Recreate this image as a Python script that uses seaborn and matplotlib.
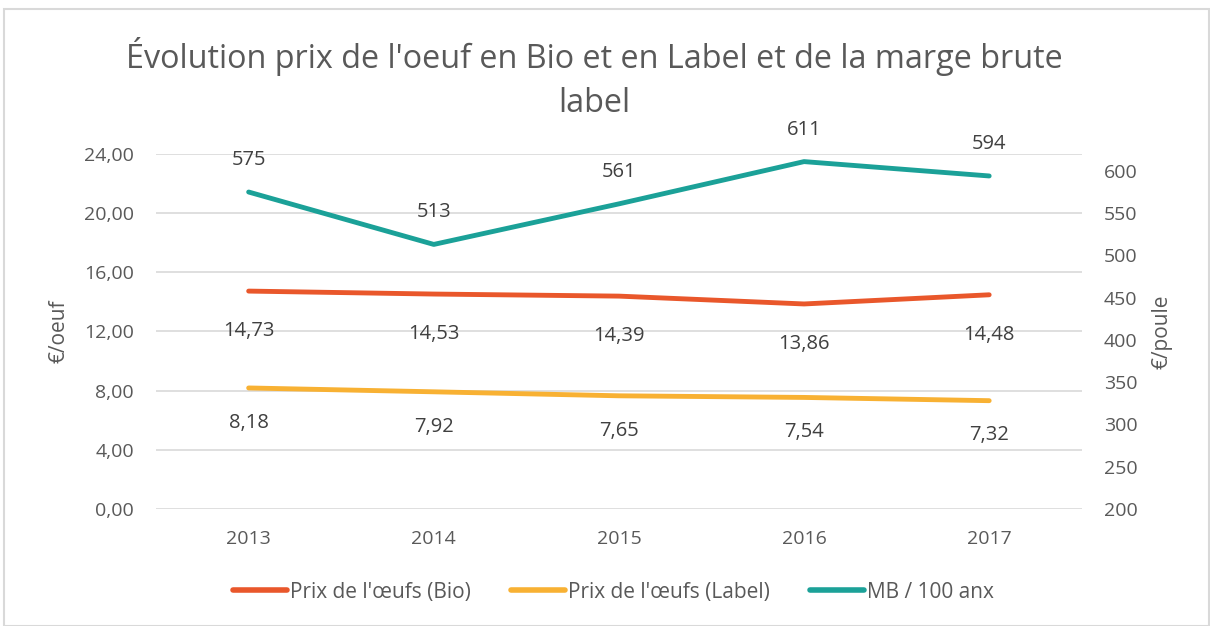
import matplotlib
matplotlib.use("Agg")
import matplotlib.pyplot as plt
import seaborn as sns
import pandas as pd
from matplotlib.patches import Rectangle

# données
annees = ["2013", "2014", "2015", "2016", "2017"]
prix_bio = [14.73, 14.53, 14.39, 13.86, 14.48]
prix_label = [8.18, 7.92, 7.65, 7.54, 7.32]
marge_brute = [575, 513, 561, 611, 594]

couleur_bio = "#E9572B"
couleur_label = "#F8B133"
couleur_mb = "#1BA198"
gris_texte = "#595959"

sns.set_theme(style="white")
plt.rcParams["font.family"] = ["Open Sans", "DejaVu Sans"]

df = pd.DataFrame({
    "annee": annees * 2,
    "prix": prix_bio + prix_label,
    "serie": ["Prix de l'œufs (Bio)"] * 5 + ["Prix de l'œufs (Label)"] * 5,
})
df_mb = pd.DataFrame({"annee": annees, "mb": marge_brute})

fig = plt.figure(figsize=(12.1, 6.26), dpi=100)
fig.patches.append(Rectangle((0.003, 0.0), 0.996, 0.985, transform=fig.transFigure,
                             fill=False, edgecolor="#D9D9D9", linewidth=1.5))
ax = fig.add_axes([0.129, 0.187, 0.765, 0.567])
ax2 = ax.twinx()

sns.lineplot(data=df, x="annee", y="prix", hue="serie", ax=ax, sort=False,
             palette=[couleur_bio, couleur_label], linewidth=3.5, legend=False)
sns.lineplot(data=df_mb, x="annee", y="mb", ax=ax2, sort=False,
             color=couleur_mb, linewidth=3.5)

ax.set_ylim(0, 24)
ax.set_yticks(range(0, 25, 4))
ax.set_yticklabels([f"{v:.2f}".replace(".", ",") for v in range(0, 25, 4)])
ax.set_xlim(-0.5, 4.5)
ax2.set_ylim(200, 620)
ax2.set_yticks(range(200, 601, 50))

ax.grid(axis="y", color="#D9D9D9", linewidth=1.2)
for a in (ax, ax2):
    for s in a.spines.values():
        s.set_visible(False)
    a.tick_params(length=0, labelsize=14, colors=gris_texte)
ax.tick_params(axis="y", pad=16)
ax.tick_params(axis="x", pad=15)
ax2.tick_params(axis="y", pad=16)

ax.set_xlabel("")
ax.set_ylabel("€/oeuf", fontsize=15, color=gris_texte, labelpad=10)
ax2.set_ylabel("€/poule", fontsize=15, color=gris_texte, labelpad=10)

# étiquettes de données
for i, v in enumerate(prix_bio):
    ax.annotate(f"{v:.2f}".replace(".", ","), (i, v), xytext=(0, -29), textcoords="offset points",
                ha="center", va="center", fontsize=14.5, color="#404040")
for i, v in enumerate(prix_label):
    ax.annotate(f"{v:.2f}".replace(".", ","), (i, v), xytext=(0, -25), textcoords="offset points",
                ha="center", va="center", fontsize=14.5, color="#404040")
for i, v in enumerate(marge_brute):
    ax2.annotate(str(v), (i, v), xytext=(0, 23), textcoords="offset points",
                 ha="center", va="center", fontsize=14.5, color="#404040")

fig.text(0.491, 0.875, "Évolution prix de l'oeuf en Bio et en Label et de la marge brute\nlabel",
         ha="center", va="center", fontsize=23.3, color=gris_texte, linespacing=1.45)

handles = [plt.Line2D([], [], color=c, linewidth=4, solid_capstyle="round")
           for c in (couleur_bio, couleur_label, couleur_mb)]
labels = ["Prix de l'œufs (Bio)", "Prix de l'œufs (Label)", "MB / 100 anx"]
fig.legend(handles, labels, loc="center", bbox_to_anchor=(0.507, 0.054), ncol=3,
           frameon=False, fontsize=15, handlelength=2.6, handletextpad=0.15,
           columnspacing=1.9, labelcolor=gris_texte)

fig.savefig("out.png", dpi=100)
